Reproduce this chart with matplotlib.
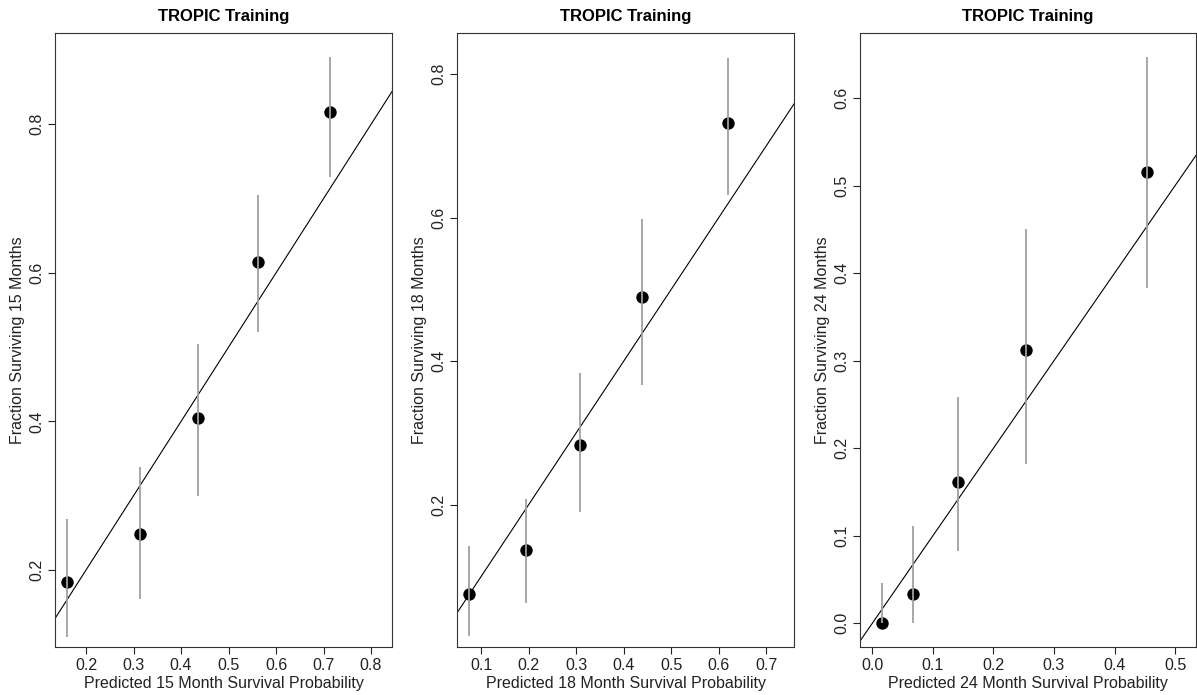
import matplotlib
matplotlib.use("Agg")
import matplotlib.pyplot as plt
from matplotlib.ticker import FormatStrFormatter
import numpy as np

plt.rcParams['font.family'] = ['Liberation Sans', 'DejaVu Sans']

# Panel 1: 15 months
pred15 = [0.160, 0.314, 0.436, 0.561, 0.714]
obs15 = [0.184, 0.249, 0.404, 0.614, 0.817]
lo15 = [0.110, 0.161, 0.300, 0.520, 0.729]
hi15 = [0.269, 0.338, 0.504, 0.705, 0.891]

# Panel 2: 18 months
pred18 = [0.075, 0.194, 0.308, 0.439, 0.620]
obs18 = [0.076, 0.137, 0.284, 0.490, 0.732]
lo18 = [0.017, 0.063, 0.190, 0.367, 0.632]
hi18 = [0.142, 0.208, 0.384, 0.598, 0.823]

# Panel 3: 24 months
pred24 = [0.0165, 0.0676, 0.141, 0.2545, 0.4544]
obs24 = [0.000, 0.034, 0.161, 0.312, 0.515]
lo24 = [0.000, 0.000, 0.083, 0.1825, 0.383]
hi24 = [0.0456, 0.111, 0.259, 0.4506, 0.647]

months = ["15", "18", "24"]
title = "TROPIC Training"

panels = [
    dict(pred=pred15, obs=obs15, lo=lo15, hi=hi15,
         xlim=(0.1347, 0.844), ylim=(0.0964, 0.9225),
         xticks=[0.2, 0.3, 0.4, 0.5, 0.6, 0.7, 0.8], yticks=[0.2, 0.4, 0.6, 0.8],
         left=0.04595, width=0.2815),
    dict(pred=pred18, obs=obs18, lo=lo18, hi=hi18,
         xlim=(0.050, 0.759), ylim=(0.002, 0.857),
         xticks=[0.1, 0.2, 0.3, 0.4, 0.5, 0.6, 0.7], yticks=[0.2, 0.4, 0.6, 0.8],
         left=0.3820, width=0.2815),
    dict(pred=pred24, obs=obs24, lo=lo24, hi=hi24,
         xlim=(-0.0198, 0.5346), ylim=(-0.027, 0.674),
         xticks=[0.0, 0.1, 0.2, 0.3, 0.4, 0.5], yticks=[0.0, 0.1, 0.2, 0.3, 0.4, 0.5, 0.6],
         left=0.7187, width=0.2805),
]

fig = plt.figure(figsize=(11.97, 6.95), dpi=100)
fs = 11.5
for p, m in zip(panels, months):
    ax = fig.add_axes([p['left'], 0.0691, p['width'], 0.883])
    ax.set_xlim(*p['xlim'])
    ax.set_ylim(*p['ylim'])
    # identity line
    lims = np.array([-1.0, 2.0])
    ax.plot(lims, lims, color='black', lw=0.8, zorder=1)
    ax.scatter(p['pred'], p['obs'], s=80, color='black', zorder=2, linewidths=0)
    ax.vlines(p['pred'], p['lo'], p['hi'], color='#a0a0a0', lw=1.3, zorder=3)
    ax.set_xticks(p['xticks'])
    ax.set_yticks(p['yticks'])
    ax.xaxis.set_major_formatter(FormatStrFormatter('%.1f'))
    ax.yaxis.set_major_formatter(FormatStrFormatter('%.1f'))
    ax.tick_params(direction='out', length=5, width=0.8, labelsize=fs, colors='#222222', pad=3)
    for lab in ax.get_yticklabels():
        lab.set_rotation(90)
        lab.set_va('center')
    for s in ax.spines.values():
        s.set_linewidth(0.8)
        s.set_color('#333333')
    ax.set_xlabel(f"Predicted {m} Month Survival Probability", fontsize=fs, labelpad=2, color='#222222')
    ax.set_ylabel(f"Fraction Surviving {m} Months", fontsize=fs, labelpad=3, color='#222222')
    ax.set_title(title, fontsize=12, fontweight='bold', pad=9)

fig.savefig("out.png", dpi=100)
